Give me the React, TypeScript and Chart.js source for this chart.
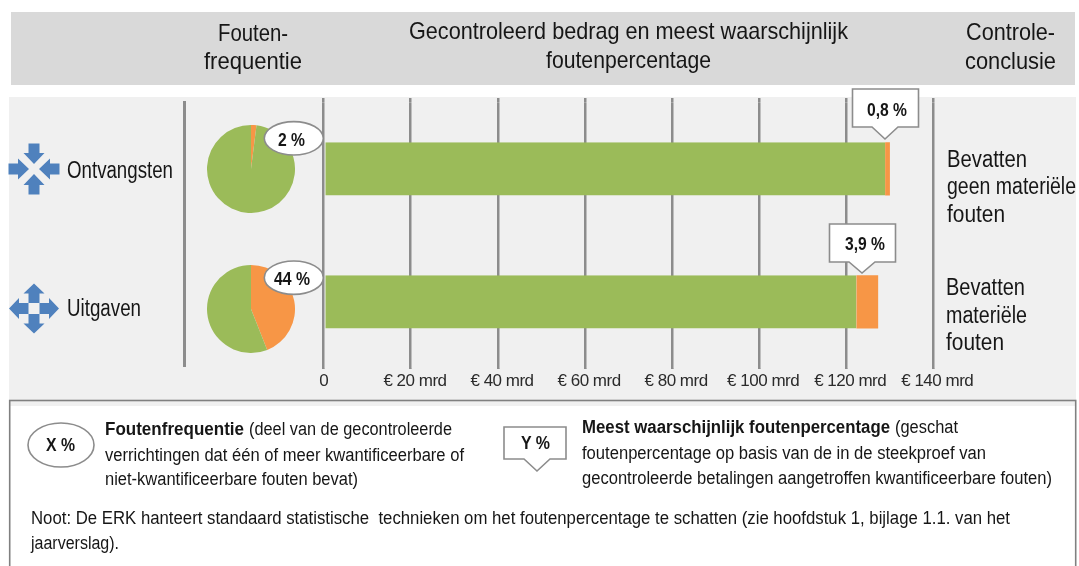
import React, { useEffect, useRef } from "react";
import { Chart, registerables } from "chart.js";

Chart.register(...registerables);

const FONT = '"Liberation Sans", Arial, sans-serif';
const categories = ["Ontvangsten", "Uitgaven"];
const correctAmount = [129.0, 122.4];
const errorAmount = [1.1, 5.0];
const frequencyPct = [2, 44];
const errorRateLabels = ["0,8 %", "3,9 %"];
const frequencyLabels = ["2 %", "44 %"];
const axisTicks = [0, 20, 40, 60, 80, 100, 120, 140];
const conclusions = [
  ["Bevatten", "geen materiële", "fouten"],
  ["Bevatten", "materiële", "fouten"],
];

const GREEN = "#9bbb59";
const ORANGE = "#f79646";
const BLUE = "#4f81bd";
const LINE = "#8c8c8c";
const INK = "#161616";

function S(props: { x1: number; x2: number; cy: number; size: number; bold?: boolean; children: string }) {
  const { x1, x2, cy, size, bold, children } = props;
  return (
    <text
      x={x1}
      y={cy + size * 0.34}
      textLength={x2 - x1}
      lengthAdjust="spacingAndGlyphs"
      fontFamily={FONT}
      fontSize={size}
      fontWeight={bold ? 700 : 400}
      fill={INK}
      xmlSpace="preserve"
    >
      {children}
    </text>
  );
}

function Arrow4({ cx, cy, d }: { cx: number; cy: number; d: string }) {
  return (
    <g transform={`translate(${cx} ${cy})`} fill={BLUE}>
      {[0, 90, 180, 270].map((a) => (
        <path key={a} d={d} transform={`rotate(${a})`} />
      ))}
    </g>
  );
}

function Callout(props: { x: number; y: number; w: number; h: number; tipX: number; tipY: number; label: string; t1: number; t2: number; tc: number }) {
  const { x, y, w, h, tipX, tipY, label, t1, t2, tc } = props;
  const b = y + h;
  const hw = 13;
  return (
    <g>
      <path
        d={`M${x} ${y}H${x + w}V${b}H${tipX + hw}L${tipX} ${tipY}L${tipX - hw} ${b}H${x}Z`}
        fill="#fff"
        stroke={LINE}
        strokeWidth={1.6}
      />
      <S x1={t1} x2={t2} cy={tc} size={18} bold>{label}</S>
    </g>
  );
}

function Oval(props: { cx: number; cy: number; rx: number; ry: number; label: string; t1: number; t2: number; tc: number }) {
  const { cx, cy, rx, ry, label, t1, t2, tc } = props;
  return (
    <g>
      <ellipse cx={cx} cy={cy} rx={rx} ry={ry} fill="#fff" stroke={LINE} strokeWidth={1.6} />
      <S x1={t1} x2={t2} cy={tc} size={18} bold>{label}</S>
    </g>
  );
}

const tickSpacing = {
  id: "tickSpacing",
  beforeDraw(chart: any) {
    chart.ctx.letterSpacing = "-0.5px";
  },
};

export default function App() {
  const barRef = useRef<HTMLCanvasElement>(null);
  const pie1Ref = useRef<HTMLCanvasElement>(null);
  const pie2Ref = useRef<HTMLCanvasElement>(null);

  useEffect(() => {
    const zeroPad = (s: any) => {
      s.paddingLeft = 0;
      s.paddingRight = 0;
    };
    const bar = new Chart(barRef.current!, {
      type: "bar",
      plugins: [tickSpacing],
      data: {
        labels: categories,
        datasets: [
          {
            data: correctAmount,
            backgroundColor: GREEN,
            borderColor: "rgba(0,0,0,0)",
            borderWidth: { left: 0.6, top: 0, right: 0, bottom: 0 },
            borderSkipped: false,
            barPercentage: 0.4,
            categoryPercentage: 1,
          },
          {
            data: errorAmount,
            backgroundColor: ORANGE,
            barPercentage: 0.4,
            categoryPercentage: 1,
          },
        ],
      },
      options: {
        indexAxis: "y",
        animation: false,
        responsive: false,
        layout: { padding: { left: 323.7, right: 146, top: 98, bottom: 171.1 } },
        plugins: { legend: { display: false }, tooltip: { enabled: false } },
        scales: {
          x: {
            stacked: true,
            min: 0,
            max: 140,
            position: "bottom",
            afterFit: zeroPad,
            afterBuildTicks: (s: any) => {
              s.ticks = axisTicks.map((value) => ({ value }));
            },
            border: { display: false },
            grid: { color: LINE, lineWidth: 2.5, tickLength: 0, drawTicks: true },
            ticks: {
              maxRotation: 0,
              autoSkip: false,
              padding: 3,
              color: "#2b2b2b",
              font: { family: FONT, size: 17 },
              callback: (v: any) => (v === 0 ? "0" : `  € ${v} mrd`),
            },
          },
          x2: {
            axis: "x",
            type: "linear",
            min: 0,
            max: 140,
            position: "top",
            afterFit: zeroPad,
            afterBuildTicks: (s: any) => {
              s.ticks = axisTicks.map((value) => ({ value }));
            },
            border: { display: false },
            grid: { color: LINE, lineWidth: 2.5, tickLength: 4.3, drawOnChartArea: false },
            ticks: { display: false },
          },
          y: { stacked: true, display: false },
        },
      },
    } as any);
    const mkPie = (c: HTMLCanvasElement, pct: number) =>
      new Chart(c, {
        type: "pie",
        data: {
          labels: ["Fouten", "Zonder fouten"],
          datasets: [{ data: [pct, 100 - pct], backgroundColor: [ORANGE, GREEN], borderWidth: 0 }],
        },
        options: {
          animation: false,
          responsive: false,
          layout: { padding: 0 },
          plugins: { legend: { display: false }, tooltip: { enabled: false } },
        },
      } as any);
    const p1 = mkPie(pie1Ref.current!, frequencyPct[0]);
    const p2 = mkPie(pie2Ref.current!, frequencyPct[1]);
    return () => {
      bar.destroy();
      p1.destroy();
      p2.destroy();
    };
  }, []);

  const compress = "M-5.5 -25.5H5.5V-16H10.5L0 -5L-10.5 -16H-5.5Z";
  const expand = "M0 -25L10.5 -15H5.5V-5.5H-5.5V-15H-10.5Z";

  return (
    <div style={{ position: "absolute", left: 0, top: 0, width: 1079, height: 566, overflow: "hidden", background: "#fff" }}>
      <div style={{ position: "absolute", left: 11, top: 12, width: 1064, height: 73, background: "#d9d9d9" }} />
      <div style={{ position: "absolute", left: 9, top: 97, width: 1067, height: 309, background: "#f0f0f0" }} />
      <div style={{ position: "absolute", left: 9, top: 406, width: 1067, height: 160, background: "#fff" }} />
      <div style={{ position: "absolute", left: 183, top: 101, width: 2.5, height: 266, background: LINE }} />

      <canvas ref={barRef} width={1079} height={566} style={{ position: "absolute", left: 0, top: 0, display: "block" }} />
      <canvas ref={pie1Ref} width={88} height={88} style={{ position: "absolute", left: 207, top: 125, display: "block" }} />
      <canvas ref={pie2Ref} width={88} height={88} style={{ position: "absolute", left: 207, top: 265, display: "block" }} />

      <svg width={1079} height={566} style={{ position: "absolute", left: 0, top: 0 }}>
        <rect x={9.7} y={400.5} width={1066} height={200} fill="none" stroke="#808080" strokeWidth={1.6} />

        <S x1={218} x2={288} cy={33} size={24}>Fouten-</S>
        <S x1={204} x2={302} cy={61} size={24}>frequentie</S>
        <S x1={409} x2={848} cy={31} size={24}>Gecontroleerd bedrag en meest waarschijnlijk</S>
        <S x1={546} x2={711} cy={60} size={24}>foutenpercentage</S>
        <S x1={966} x2={1055} cy={32} size={24}>Controle-</S>
        <S x1={965} x2={1056} cy={61} size={24}>conclusie</S>

        <Arrow4 cx={34} cy={169} d={compress} />
        <Arrow4 cx={34} cy={308.5} d={expand} />
        <S x1={67} x2={173} cy={170} size={23}>{categories[0]}</S>
        <S x1={67} x2={141} cy={308} size={23}>{categories[1]}</S>

        <Oval cx={293.8} cy={138.3} rx={29.5} ry={16.7} label={frequencyLabels[0]} t1={278} t2={305} tc={140} />
        <Oval cx={293.8} cy={277.7} rx={29.5} ry={16.7} label={frequencyLabels[1]} t1={274} t2={310} tc={279} />
        <Callout x={852.5} y={89} w={66} h={38} tipX={885} tipY={139} label={errorRateLabels[0]} t1={867} t2={907} tc={110} />
        <Callout x={829.5} y={224} w={66} h={38} tipX={862} tipY={273} label={errorRateLabels[1]} t1={845} t2={885} tc={244} />

        <S x1={947} x2={1027} cy={159} size={23}>{conclusions[0][0]}</S>
        <S x1={947} x2={1076} cy={186} size={23}>{conclusions[0][1]}</S>
        <S x1={947} x2={1005} cy={214} size={23}>{conclusions[0][2]}</S>
        <S x1={946} x2={1025} cy={287} size={23}>{conclusions[1][0]}</S>
        <S x1={946} x2={1027} cy={315} size={23}>{conclusions[1][1]}</S>
        <S x1={946} x2={1004} cy={342} size={23}>{conclusions[1][2]}</S>

        <Oval cx={61} cy={445} rx={33} ry={22} label="X %" t1={46} t2={75} tc={445} />
        <Callout x={504} y={427} w={62} h={32} tipX={537} tipY={471} label="Y %" t1={521} t2={550} tc={443} />

        <S x1={105} x2={244} cy={429} size={18} bold>Foutenfrequentie</S>
        <S x1={249} x2={452} cy={429} size={18}>(deel van de gecontroleerde</S>
        <S x1={105} x2={464} cy={455} size={18}>verrichtingen dat één of meer kwantificeerbare of</S>
        <S x1={105} x2={358} cy={479} size={18}>niet-kwantificeerbare fouten bevat)</S>
        <S x1={582} x2={890} cy={427} size={18} bold>Meest waarschijnlijk foutenpercentage</S>
        <S x1={895} x2={958} cy={427} size={18}>(geschat</S>
        <S x1={582} x2={986} cy={453} size={18}>foutenpercentage op basis van de in de steekproef van</S>
        <S x1={582} x2={1052} cy={478} size={18}>gecontroleerde betalingen aangetroffen kwantificeerbare fouten)</S>
        <S x1={31} x2={1010} cy={518} size={18}>Noot: De ERK hanteert standaard statistische  technieken om het foutenpercentage te schatten (zie hoofdstuk 1, bijlage 1.1. van het</S>
        <S x1={31} x2={119} cy={543} size={18}>jaarverslag).</S>
      </svg>
    </div>
  );
}
